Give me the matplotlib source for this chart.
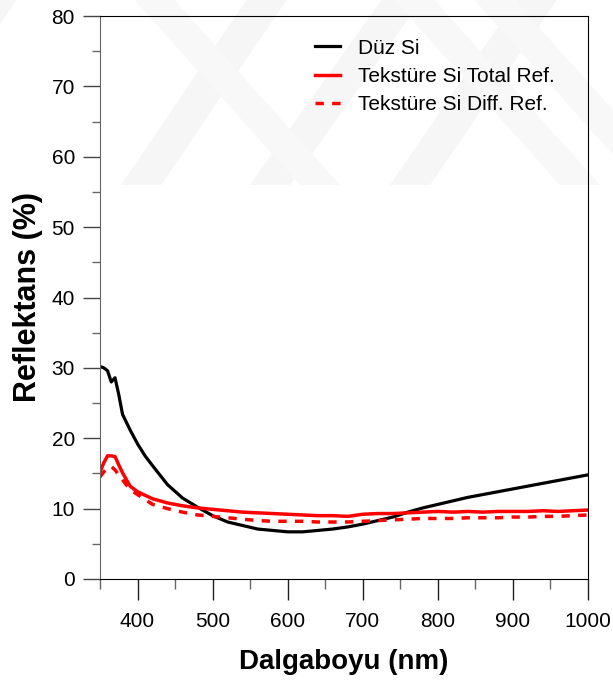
import numpy as np
import matplotlib
matplotlib.use('Agg')
import matplotlib.pyplot as plt
from matplotlib.patches import Polygon
from matplotlib.ticker import MultipleLocator

plt.rcParams['font.family'] = ['Liberation Sans', 'DejaVu Sans']

# wavelength grid (nm) and reflectance (%) for the three samples
wavelength = [350, 355, 360, 365, 370, 375, 380, 390, 400, 410, 420, 440, 460, 480,
              500, 520, 540, 560, 580, 600, 620, 640, 660, 680, 700, 720, 740, 760,
              780, 800, 820, 840, 860, 880, 900, 920, 940, 960, 980, 1000]
duz_si = [30.2, 30.0, 29.6, 28.0, 28.6, 26.2, 23.4, 21.2, 19.2, 17.5, 16.1, 13.4, 11.5, 10.2,
          9.0, 8.1, 7.6, 7.1, 6.9, 6.7, 6.7, 6.9, 7.1, 7.4, 7.8, 8.3, 8.8, 9.5,
          10.1, 10.6, 11.1, 11.6, 12.0, 12.4, 12.8, 13.2, 13.6, 14.0, 14.4, 14.8]
tekst_total = [15.2, 16.5, 17.5, 17.5, 17.4, 16.2, 15.1, 13.2, 12.4, 11.9, 11.4, 10.8, 10.4, 10.1,
               9.9, 9.7, 9.5, 9.4, 9.3, 9.2, 9.1, 9.0, 9.0, 8.9, 9.2, 9.3, 9.3, 9.4,
               9.5, 9.6, 9.5, 9.6, 9.5, 9.6, 9.6, 9.6, 9.7, 9.6, 9.7, 9.8]
tekst_diff = [14.5, 15.2, 15.8, 16.0, 15.5, 14.8, 14.1, 12.7, 12.0, 11.3, 10.6, 10.0, 9.5, 9.1,
              8.9, 8.7, 8.5, 8.3, 8.2, 8.2, 8.2, 8.1, 8.1, 8.1, 8.2, 8.3, 8.4, 8.5,
              8.6, 8.6, 8.6, 8.7, 8.7, 8.7, 8.8, 8.8, 8.9, 8.9, 9.0, 9.1]

W, H = 613, 683
fig = plt.figure(figsize=(W / 100, H / 100), dpi=100)

# faint chevron watermark across the top, kept behind everything
def band(x_top, x_bot, width, y_bot=185):
  pts = [(x_top, -5), (x_top + width, -5), (x_bot + width, y_bot), (x_bot, y_bot)]
  return [(px / W, 1 - py / H) for px, py in pts]

for x_top, x_bot in [(250, 121), (385, 250), (-20, -150), (520, 390)]:
  fig.patches.append(Polygon(band(x_top, x_bot, 40), closed=True, transform=fig.transFigure,
                             facecolor='#f6f6f6', edgecolor='none', zorder=-10))
for x_top, x_bot in [(390, 560), (470, 640), (130, 300)]:
  fig.patches.append(Polygon(band(x_top, x_bot, 40), closed=True, transform=fig.transFigure,
                             facecolor='#f8f8f8', edgecolor='none', zorder=-10))

ax = fig.add_axes([100 / W, 1 - 579 / H, 488 / W, 563 / H])
ax.patch.set_alpha(0)

ax.plot(wavelength, duz_si, color='black', lw=2.3, label='Düz Si')
ax.plot(wavelength, tekst_total, color='#ff0000', lw=2.5, label='Tekstüre Si Total Ref.')
ax.plot(wavelength, tekst_diff, color='#ff0000', lw=2.5, linestyle=(0, (2.4, 2.4)),
        label='Tekstüre Si Diff. Ref.')

ax.set_xlim(350, 1000)
ax.set_ylim(0, 80)
ax.xaxis.set_major_locator(MultipleLocator(100))
ax.xaxis.set_minor_locator(MultipleLocator(50))
ax.yaxis.set_major_locator(MultipleLocator(10))
ax.yaxis.set_minor_locator(MultipleLocator(5))
ax.set_xticks([400, 500, 600, 700, 800, 900, 1000])

ax.tick_params(axis='x', which='major', direction='out', length=15, width=1.0, color='#222222',
               labelsize=15, pad=9)
ax.tick_params(axis='x', which='minor', direction='out', length=7.5, width=1.0, color='#666666')
ax.tick_params(axis='y', which='major', direction='out', length=12, width=1.0, color='#444444',
               labelsize=15, pad=6)
ax.tick_params(axis='y', which='minor', direction='out', length=6, width=1.0, color='#666666')
ax.spines['left'].set_color('#666666')
for s in ['top', 'right', 'bottom']:
  ax.spines[s].set_color('black')

ax.set_xlabel('Dalgaboyu (nm)', fontsize=20, fontweight='bold', labelpad=13)
ax.set_ylabel('Reflektans (%)', fontsize=22, fontweight='bold', labelpad=6)

ax.legend(loc='upper left', bbox_to_anchor=(0.44, 0.96), frameon=False, fontsize=15,
          handlelength=1.2, handletextpad=0.9, labelspacing=0.45, borderpad=0, borderaxespad=0)

fig.savefig('out.png', dpi=100)
